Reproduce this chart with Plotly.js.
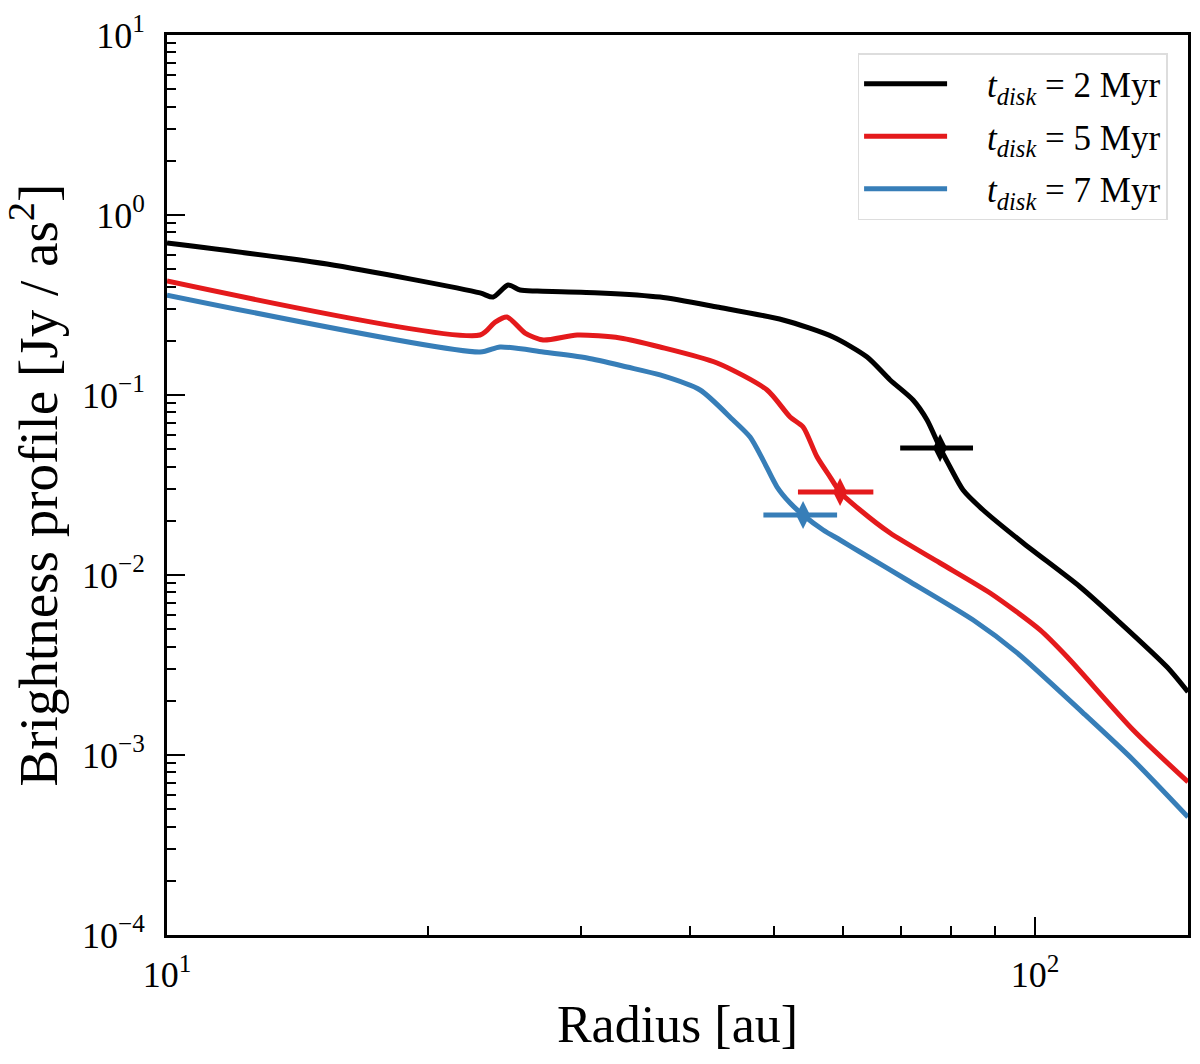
<!DOCTYPE html>
<html>
<head>
<meta charset="utf-8">
<script src="https://cdn.plot.ly/plotly-3.0.1.min.js"></script>
<style>
  html, body { margin: 0; padding: 0; background: #fff; }
  #graph { width: 1200px; height: 1064px; }
</style>
</head>
<body>
<div id="graph"></div>
<script>
// values (radius in au, brightness in Jy / as^2)
var radius2Myr = [10, 15.29, 22.94, 23.75, 24.71, 25.51, 26.69, 31.54, 36.98, 43.02, 51.25, 58.52, 64.04, 68.07, 72.34, 75.08, 77.71, 79.8, 82.6, 87.11, 96.87, 112.7, 124.3, 141.9, 150];
var bright2Myr = [0.699, 0.534, 0.369, 0.350, 0.408, 0.383, 0.378, 0.369, 0.350, 0.308, 0.261, 0.210, 0.1626, 0.1212, 0.0938, 0.0726, 0.0508, 0.0398, 0.02966, 0.02297, 0.01506, 0.00858, 0.00562, 0.00308, 0.00224];

var radius5Myr = [10, 22.94, 23.88, 24.64, 25.85, 27.12, 29.68, 33.26, 36.98, 43.02, 49.12, 52.21, 54.04, 56.09, 58.06, 59.61, 62.86, 68.07, 77.71, 88.74, 101.3, 108.9, 129.7, 150];
var bright5Myr = [0.430, 0.2154, 0.2544, 0.2713, 0.221, 0.2020, 0.2154, 0.2073, 0.1848, 0.1506, 0.1066, 0.0755, 0.0664, 0.0452, 0.0350, 0.0289, 0.02297, 0.01711, 0.01166, 0.00794, 0.00495, 0.0035, 0.001377, 0.000708];

var radius7Myr = [10, 22.94, 24.19, 27.12, 30.48, 33.88, 36.98, 41.12, 44.88, 46.95, 48.6, 50.44, 52.21, 54.04, 57.0, 59.61, 62.86, 71.2, 84.85, 95.35, 113.6, 129.7, 150];
var bright7Myr = [0.359, 0.1734, 0.1848, 0.1734, 0.1606, 0.1431, 0.1292, 0.1066, 0.0726, 0.0584, 0.0435, 0.0308, 0.0251, 0.02154, 0.01778, 0.01565, 0.01342, 0.00938, 0.00562, 0.00369, 0.00171, 0.000938, 0.000452];

// disk radius markers with horizontal error bars
var cutRadius = [77.71, 59.61, 54.04];
var cutBright = [0.0508, 0.0289, 0.02154];
var cutErrMinus = [7.8, 6.3, 5.4];
var cutErrPlus = [7.1, 5.5, 5.1];

var ages = ['2', '5', '7'];
var colors = ['#000000', '#e41a1c', '#377eb8'];

var yTickVals = [1e-4, 1e-3, 1e-2, 1e-1, 1, 10];
var yTickText = ['10<sup>\u22124</sup>', '10<sup>\u22123</sup>', '10<sup>\u22122</sup>', '10<sup>\u22121</sup>', '10<sup>0</sup>', '10<sup>1</sup>'];
var xTickVals = [10, 100];
var xTickText = ['10<sup>1</sup>', '10<sup>2</sup>'];

var font = 'Liberation Serif, Times New Roman, serif';

function legendLabel(i){
    return '&nbsp;&nbsp;&nbsp;&nbsp;<i>t</i><sub><i>disk</i></sub>&nbsp;=&nbsp;' + ages[i] + '&nbsp;Myr';
}

function makeCurve(x, y, i){
    return {
        x: x, y: y, type: 'scatter', mode: 'lines',
        name: legendLabel(i), legendgroup: 'g' + i,
        line: {color: colors[i], width: 5, shape: 'spline', smoothing: 0.7}
    };
}

function makeCut(i){
    return {
        x: [cutRadius[i]], y: [cutBright[i]], type: 'scatter', mode: 'markers',
        showlegend: false, legendgroup: 'g' + i,
        marker: {symbol: 'diamond-tall', size: 20, color: colors[i]},
        error_x: {type: 'data', symmetric: false, array: [cutErrPlus[i]], arrayminus: [cutErrMinus[i]],
                  color: colors[i], thickness: 5, width: 0}
    };
}

var data = [
    makeCurve(radius2Myr, bright2Myr, 0),
    makeCurve(radius5Myr, bright5Myr, 1),
    makeCurve(radius7Myr, bright7Myr, 2),
    makeCut(0), makeCut(1), makeCut(2)
];

var axisCommon = {
    type: 'log',
    showgrid: false, zeroline: false,
    showline: true, linecolor: '#000', linewidth: 3, mirror: true,
    ticks: 'inside', ticklen: 18, tickwidth: 2.5, tickcolor: '#000',
    tickmode: 'array',
    tickfont: {family: font, size: 36, color: '#000'},
    minor: {ticks: 'inside', ticklen: 9, tickwidth: 2, tickcolor: '#000', dtick: 'D1', showgrid: false}
};

var layout = {
    width: 1200, height: 1064,
    margin: {l: 167, r: 12, t: 35, b: 129},
    paper_bgcolor: '#fff', plot_bgcolor: '#fff',
    showlegend: true,
    xaxis: Object.assign({}, axisCommon, {
        range: [1, Math.log10(150)],
        tickvals: xTickVals, ticktext: xTickText,
        ticklabelstandoff: 6,
        title: {text: 'Radius [au]', font: {family: font, size: 52, color: '#000'}, standoff: 12}
    }),
    yaxis: Object.assign({}, axisCommon, {
        range: [-4, 1],
        tickvals: yTickVals, ticktext: yTickText,
        ticklabelstandoff: 12,
        title: {text: 'Brightness profile [Jy / as<sup>2</sup>]', font: {family: font, size: 55, color: '#000'}, standoff: 32}
    }),
    legend: {
        x: 0.98, y: 0.98, xanchor: 'right', yanchor: 'top',
        bgcolor: '#fff', bordercolor: '#dddddd', borderwidth: 1.5,
        font: {family: font, size: 35, color: '#000'},
        itemwidth: 83, traceorder: 'grouped', tracegroupgap: 4
    }
};

Plotly.newPlot('graph', data, layout, {staticPlot: true});
</script>
</body>
</html>
